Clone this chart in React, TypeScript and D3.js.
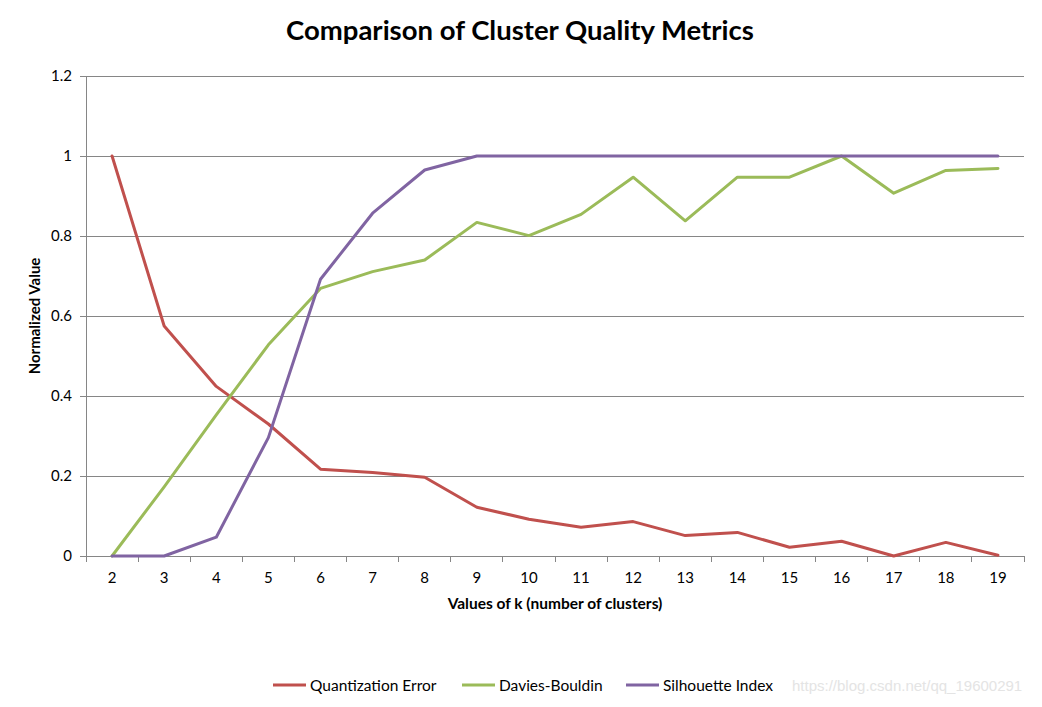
import * as d3 from "d3";
import { useEffect, useRef } from "react";

const kValues = ["2", "3", "4", "5", "6", "7", "8", "9", "10", "11", "12", "13", "14", "15", "16", "17", "18", "19"];
const quantError = [1.0, 0.575, 0.424, 0.33, 0.217, 0.209, 0.197, 0.122, 0.092, 0.072, 0.086, 0.051, 0.059, 0.022, 0.037, 0.0, 0.034, 0.002];
const daviesBouldin = [0.0, 0.173, 0.353, 0.528, 0.669, 0.711, 0.74, 0.834, 0.801, 0.854, 0.947, 0.838, 0.947, 0.947, 1.0, 0.907, 0.964, 0.969];
const silhouette = [0.0, 0.0, 0.047, 0.296, 0.692, 0.857, 0.965, 1, 1, 1, 1, 1, 1, 1, 1, 1, 1, 1];
const yTicks = [0, 0.2, 0.4, 0.6, 0.8, 1, 1.2];

const seriesList = [
  { name: "Quantization Error", values: quantError, color: "#C0504D" },
  { name: "Davies-Bouldin", values: daviesBouldin, color: "#9BBB59" },
  { name: "Silhouette Index", values: silhouette, color: "#8064A2" },
];

const FONT = "Lato, 'Open Sans', sans-serif";

function drawChart(container: HTMLElement) {
  const width = 1042;
  const height = 707;
  const left = 86, right = 1024, top = 76, bottom = 556;

  const svg = d3.select(container)
    .append("svg")
    .attr("width", width)
    .attr("height", height)
    .attr("style", "position:absolute;left:0;top:0;background:#fff")
    .style("font-family", FONT);

  const x = d3.scaleBand<string>().domain(kValues).range([left, right]);
  const y = d3.scaleLinear().domain([0, 1.2]).range([bottom, top]);
  const cx = (k: string) => x(k)! + x.bandwidth() / 2;

  // title
  svg.append("text")
    .attr("x", 520).attr("y", 40)
    .attr("text-anchor", "middle")
    .attr("font-size", 27.5).attr("font-weight", "bold")
    .attr("fill", "#000")
    .text("Comparison of Cluster Quality Metrics");

  // gridlines
  svg.append("g")
    .selectAll("line")
    .data(yTicks)
    .join("line")
    .attr("x1", left - 6).attr("x2", right)
    .attr("y1", d => y(d)).attr("y2", d => y(d))
    .attr("stroke", "#868686").attr("stroke-width", 1)
    .attr("shape-rendering", "crispEdges");

  // y axis line
  svg.append("line")
    .attr("x1", left).attr("x2", left)
    .attr("y1", top).attr("y2", bottom)
    .attr("stroke", "#868686")
    .attr("shape-rendering", "crispEdges");

  // y tick labels
  svg.append("g")
    .selectAll("text")
    .data(yTicks)
    .join("text")
    .attr("x", 72).attr("y", d => y(d) + 5)
    .attr("text-anchor", "end")
    .attr("font-size", 15)
    .text(d => d3.format("~g")(d));

  // x tick marks on band edges
  const edges = kValues.map(k => x(k)!).concat([right]);
  svg.append("g")
    .selectAll("line")
    .data(edges)
    .join("line")
    .attr("x1", d => d).attr("x2", d => d)
    .attr("y1", bottom).attr("y2", bottom + 6)
    .attr("stroke", "#868686")
    .attr("shape-rendering", "crispEdges");

  // x tick labels
  svg.append("g")
    .selectAll("text")
    .data(kValues)
    .join("text")
    .attr("x", d => cx(d)).attr("y", 583)
    .attr("text-anchor", "middle")
    .attr("font-size", 15)
    .text(d => d);

  // axis titles
  svg.append("text")
    .attr("x", (left + right) / 2).attr("y", 609)
    .attr("text-anchor", "middle")
    .attr("font-size", 15.5).attr("font-weight", "bold")
    .text("Values of k (number of clusters)");

  svg.append("text")
    .attr("transform", `translate(40, ${(top + bottom) / 2}) rotate(-90)`)
    .attr("text-anchor", "middle")
    .attr("font-size", 15).attr("font-weight", "bold")
    .text("Normalized Value");

  // lines
  const line = d3.line<number>()
    .x((_, i) => cx(kValues[i]))
    .y(d => y(d));

  svg.append("g")
    .selectAll("path")
    .data(seriesList)
    .join("path")
    .attr("d", s => line(s.values))
    .attr("fill", "none")
    .attr("stroke", s => s.color)
    .attr("stroke-width", 3)
    .attr("stroke-linejoin", "round")
    .attr("stroke-linecap", "round");

  // legend
  const legendX = [273, 462, 626];
  const lg = svg.append("g")
    .selectAll("g")
    .data(seriesList)
    .join("g")
    .attr("transform", (_, i) => `translate(${legendX[i]}, 685)`);
  lg.append("line")
    .attr("x1", 0).attr("x2", 33)
    .attr("stroke", s => s.color).attr("stroke-width", 3);
  lg.append("text")
    .attr("x", 37).attr("y", 5.5)
    .attr("font-size", 15.5)
    .text(s => s.name);

  // watermark
  svg.append("text")
    .attr("x", 792).attr("y", 691)
    .attr("font-family", "'Liberation Sans', Arial, sans-serif")
    .attr("font-size", 15)
    .attr("fill", "#e4e4e4")
    .text("https://blog.csdn.net/qq_19600291");
}

export default function App() {
  const domRef = useRef<HTMLDivElement>(null);
  useEffect(() => {
    if (domRef.current) {
      drawChart(domRef.current);
    }
    return () => {
      if (domRef.current) {
        d3.select(domRef.current).selectAll("svg").remove();
      }
    };
  }, [domRef]);
  return <div ref={domRef}></div>;
}
